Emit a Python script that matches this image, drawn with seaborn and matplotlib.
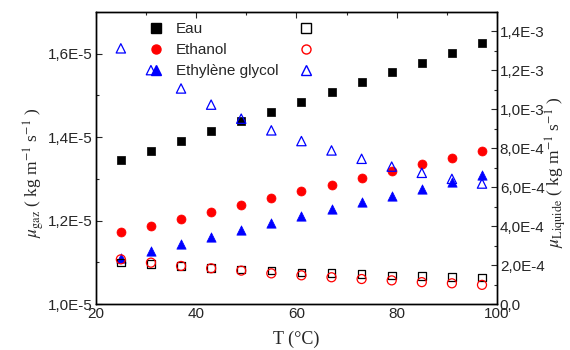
import seaborn as sns
import matplotlib.pyplot as plt
from matplotlib.lines import Line2D
from matplotlib.ticker import FuncFormatter, MultipleLocator

# Temperature (°C)
T = [25, 31, 37, 43, 49, 55, 61, 67, 73, 79, 85, 91, 97]

# gas viscosity (kg m-1 s-1), left axis
eau_gaz = [1.345e-5, 1.368e-5, 1.390e-5, 1.414e-5, 1.438e-5, 1.461e-5, 1.484e-5,
           1.508e-5, 1.532e-5, 1.555e-5, 1.578e-5, 1.602e-5, 1.626e-5]
ethanol_gaz = [1.172e-5, 1.188e-5, 1.205e-5, 1.221e-5, 1.238e-5, 1.254e-5, 1.270e-5,
               1.286e-5, 1.303e-5, 1.318e-5, 1.335e-5, 1.351e-5, 1.367e-5]
glycol_gaz = [1.110e-5, 1.128e-5, 1.145e-5, 1.161e-5, 1.178e-5, 1.194e-5, 1.211e-5,
              1.227e-5, 1.244e-5, 1.260e-5, 1.277e-5, 1.293e-5, 1.310e-5]

# liquid viscosity (kg m-1 s-1), right axis
eau_liq = [2.13e-4, 2.06e-4, 1.96e-4, 1.86e-4, 1.77e-4, 1.72e-4, 1.63e-4,
           1.60e-4, 1.55e-4, 1.48e-4, 1.44e-4, 1.39e-4, 1.36e-4]
ethanol_liq = [2.30e-4, 2.13e-4, 1.96e-4, 1.84e-4, 1.72e-4, 1.58e-4, 1.48e-4,
               1.38e-4, 1.29e-4, 1.22e-4, 1.13e-4, 1.07e-4, 0.99e-4]
glycol_liq = [1.313e-3, 1.201e-3, 1.107e-3, 1.024e-3, 0.952e-3, 0.892e-3, 0.837e-3,
              0.789e-3, 0.746e-3, 0.706e-3, 0.674e-3, 0.643e-3, 0.619e-3]

labels = ["Eau", "Ethanol", "Ethylène glycol"]
colors = ["black", "red", "blue"]
markers = ["s", "o", "^"]

sns.set_theme(style="white")
plt.rcParams["font.family"] = ["Liberation Sans", "DejaVu Sans"]
plt.rcParams["mathtext.fontset"] = "stix"

fig = plt.figure(figsize=(5.7, 3.5), dpi=100)
ax = fig.add_axes([0.168, 0.131, 0.704, 0.835])
ax2 = ax.twinx()

sizes = [30, 42, 45]
for ys, c, m, s in zip([eau_gaz, ethanol_gaz, glycol_gaz], colors, markers, sizes):
    sns.scatterplot(x=T, y=ys, marker=m, s=s, color=c, edgecolor=c,
                    linewidth=0.5, ax=ax, legend=False, zorder=3)
for ys, c, m, s in zip([eau_liq, ethanol_liq, glycol_liq], colors, markers, sizes):
    sns.scatterplot(x=T, y=ys, marker=m, s=s, facecolors="none", edgecolor=c,
                    linewidth=0.9, ax=ax2, legend=False, zorder=3)

ax.set_xlim(20, 100)
ax.set_ylim(1.0e-5, 1.7e-5)
ax2.set_ylim(0, 1.5e-3)

ax.xaxis.set_major_locator(MultipleLocator(20))
ax.xaxis.set_minor_locator(MultipleLocator(10))
ax.yaxis.set_major_locator(MultipleLocator(0.2e-5))
ax.yaxis.set_minor_locator(MultipleLocator(0.1e-5))
ax2.yaxis.set_major_locator(MultipleLocator(2e-4))
ax2.yaxis.set_minor_locator(MultipleLocator(1e-4))


def fmt_left(v, pos):
    return f"{v * 1e5:.1f}E-5".replace(".", ",")


def fmt_right(v, pos):
    if abs(v) < 1e-12:
        return "0,0"
    if v >= 1e-3 - 1e-12:
        return f"{v * 1e3:.1f}E-3".replace(".", ",")
    return f"{v * 1e4:.1f}E-4".replace(".", ",")


ax.yaxis.set_major_formatter(FuncFormatter(fmt_left))
ax2.yaxis.set_major_formatter(FuncFormatter(fmt_right))

ax.tick_params(axis="x", which="both", direction="in", top=True, labelsize=11, pad=2)
ax.tick_params(axis="y", which="both", direction="in", left=True, right=False, labelsize=11, pad=2)
ax.tick_params(which="major", length=4, width=0.8)
ax.tick_params(which="minor", length=2.5, width=0.8)
ax2.tick_params(axis="y", which="both", direction="in", right=True, labelsize=11, pad=2)
ax2.tick_params(which="major", length=4, width=0.8)
ax2.tick_params(which="minor", length=2.5, width=0.8)

for a in (ax, ax2):
    for sp in a.spines.values():
        sp.set_color("black")
        sp.set_linewidth(1.0)

ax.set_xlabel("T (°C)", family="Liberation Serif", fontsize=13, labelpad=7)
ax.set_ylabel(r"$\mu_{\mathrm{gaz}}$ ( kg m$^{-1}$ s$^{-1}$ )", family="Liberation Serif",
              fontsize=12.5, labelpad=5)
ax.yaxis.set_label_coords(-0.125, 0.45)
ax2.set_ylabel(r"$\mu_{\mathrm{Liquide}}$ ( kg m$^{-1}$ s$^{-1}$ )", family="Liberation Serif",
               fontsize=12.5, labelpad=2)
ax2.yaxis.set_label_coords(1.115, 0.45)

filled = [Line2D([], [], ls="none", marker=m, color=c, markersize=6.5)
          for m, c in zip(markers, colors)]
opened = [Line2D([], [], ls="none", marker=m, markerfacecolor="none",
                 markeredgecolor=c, markersize=6.5) for m, c in zip(markers, colors)]
leg1 = ax2.legend(filled, labels, loc="upper left", bbox_to_anchor=(0.115, 0.985),
                  frameon=False, fontsize=11, handletextpad=0.8, labelspacing=0.45,
                  handlelength=1.0, borderaxespad=0)
ax2.add_artist(leg1)
ax2.legend(opened, ["", "", ""], loc="upper left", bbox_to_anchor=(0.49, 0.985),
           frameon=False, fontsize=11, handletextpad=0, labelspacing=0.45,
           handlelength=1.0, borderaxespad=0)

fig.savefig("out.png", dpi=100)
